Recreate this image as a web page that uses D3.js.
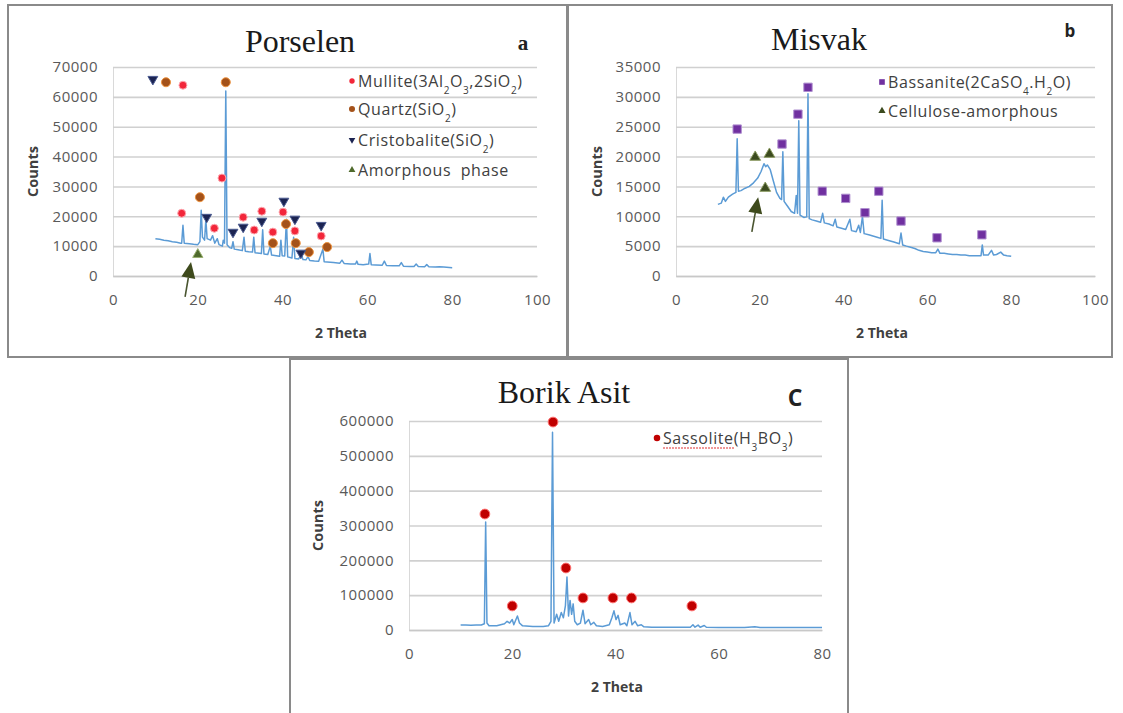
<!DOCTYPE html>
<html>
<head>
<meta charset="utf-8">
<script src="https://cdn.jsdelivr.net/npm/d3@7"></script>
<style>
  body { margin: 0; background: #fff; }
  text { font-family: "Open Sans", sans-serif; white-space: pre; }
</style>
</head>
<body>
<svg id="chart" width="1123" height="713"></svg>
<script>
// ---- panel a: Porselen ----
const porselenPattern = [[10,12500],[11,12300],[12,12000],[13,11800],[14,11500],[15,11300],[16,11000],[16.2,11000],[16.5,17000],[16.8,11000],[18,10800],[19,10600],[20,10500],[20.5,11500],[20.8,22000],[21.1,13000],[21.6,12000],[21.9,19000],[22.2,12500],[23,12000],[23.5,13500],[24,11000],[24.6,12500],[25,10500],[25.8,10000],[26.0,12000],[26.3,11000],[26.6,62000],[26.9,10500],[27.5,9500],[28,9300],[28.3,11500],[28.6,9000],[29.5,8800],[30.5,8500],[30.9,13000],[31.2,8300],[32,8100],[32.9,8000],[33.2,13000],[33.5,7800],[34.5,7600],[35,7500],[35.3,15500],[35.6,7400],[36.5,7200],[37.1,10000],[37.4,7000],[38.5,6800],[39.3,6600],[39.6,12000],[39.9,6800],[40.5,6700],[40.9,19000],[41.2,6400],[42.2,6000],[42.6,13000],[42.9,5900],[43.8,5700],[44.4,7500],[44.8,5500],[45.5,5400],[46,6500],[46.4,5200],[47.5,5000],[48.5,4900],[49.5,9000],[49.8,4800],[50.5,4700],[52,4500],[53.5,4300],[54,5300],[54.5,4200],[56,4000],[57.2,4000],[57.5,5000],[57.8,3900],[59,3800],[60.3,4000],[60.6,7500],[60.9,3800],[62,3700],[63.5,3600],[64,5000],[64.5,3500],[66,3400],[67.5,3400],[68,4500],[68.5,3300],[70,3200],[71,3200],[71.5,4000],[72,3200],[73.5,3100],[74,3800],[74.5,3100],[76,3000],[77,3100],[78,3000],[80,2800]];
const mullite = [[16.5,63900],[16.2,21000],[23.9,16000],[25.7,32800],[30.7,19700],[33.3,15400],[35.1,21700],[37.7,14700],[40.1,21400],[42.9,15100],[49.1,13400]];
const quartz = [[12.5,64900],[20.5,26400],[26.6,64900],[37.7,11000],[40.8,17400],[43.1,11000],[46.2,8000],[50.5,9700]];
const cristobalite = [[9.4,65900],[22.1,19700],[28.3,14700],[30.7,16400],[35.1,18400],[40.3,25100],[42.9,19100],[44.3,7700],[49.1,17000]];
const amorphous = [[20.0,7200]];
const arrowA = [[17.0,-7000],[18.4,4700]];

// ---- panel b: Misvak ----
const misvakPattern = [[10,12000],[10.8,12200],[11.3,13200],[11.8,12500],[12.5,13200],[13.5,13700],[14.3,14000],[14.6,23000],[14.9,14200],[15.5,14300],[16.5,14700],[17.5,15000],[18.5,15600],[19.5,16400],[20.3,17500],[21,18800],[21.4,18300],[21.8,18600],[22.5,17800],[23.2,16000],[24,14000],[24.8,13000],[25.2,12800],[25.5,20800],[25.8,12500],[26.5,11800],[27.5,10800],[28.3,10500],[28.7,13500],[29.0,10500],[29.3,26000],[29.6,10200],[30.5,9800],[31.2,9900],[31.5,30500],[31.8,9600],[32.5,9400],[33.5,9200],[34.5,9000],[35,10500],[35.4,8900],[36.5,8700],[37.5,8400],[38,9500],[38.4,8200],[39.5,8000],[40.5,7800],[41.5,9500],[41.9,7600],[43,7400],[43.6,8500],[44,7300],[44.5,10000],[44.9,7100],[46,6900],[47,6700],[48,6500],[48.9,6300],[49.2,12700],[49.5,6200],[50.5,6000],[52,5700],[53.3,5400],[53.7,7200],[54.1,5200],[55,5000],[56,4800],[57,4600],[58,4300],[59,4100],[60,4000],[61,3900],[62,3900],[62.5,4500],[63,3800],[64,3800],[65,3700],[66,3600],[67,3600],[68,3500],[69,3500],[70,3400],[71,3400],[72,3400],[72.8,3400],[73.1,5200],[73.4,3500],[74.5,3500],[75.3,4300],[75.8,3500],[76.5,3600],[77.5,4000],[78.2,3500],[79,3400],[80,3300]];
const bassanite = [[14.6,24600],[25.3,22100],[29.1,27100],[31.5,31600],[34.9,14200],[40.5,13000],[45.1,10600],[48.4,14200],[53.7,9200],[62.3,6400],[73.0,6900]];
const cellulose = [[18.9,19900],[22.3,20400],[21.3,14700]];
const arrowB = [[18.1,7400],[19.6,13200]];

// ---- panel c: Borik Asit ----
const borikPattern = [[10,14000],[11,14500],[12,13500],[13,14000],[14,14500],[14.6,18000],[14.85,310000],[15.1,20000],[15.5,12000],[17,12000],[18.5,18000],[19,25000],[19.5,20000],[20,30000],[20.3,15000],[21,40000],[21.4,20000],[22,12000],[24,10000],[26,10000],[27,12000],[27.5,25000],[27.8,568000],[28.1,20000],[28.6,45000],[29,25000],[29.5,50000],[29.9,35000],[30.3,70000],[30.6,152000],[30.9,40000],[31.2,85000],[31.5,45000],[31.8,75000],[32.1,25000],[32.6,15000],[33.2,20000],[33.7,57000],[34.1,18000],[34.8,30000],[35.2,15000],[35.8,22000],[36.3,12000],[37.5,10000],[38.8,15000],[39.3,35000],[39.7,55000],[40.1,30000],[40.5,42000],[40.9,15000],[41.8,20000],[42.2,12000],[42.8,50000],[43.2,15000],[43.8,25000],[44.3,12000],[45,15000],[45.5,9000],[47,8000],[50,8000],[53,8000],[54.5,8000],[55,15000],[55.4,8000],[56,14000],[56.4,8000],[57.2,13000],[57.6,8000],[60,7500],[62,7500],[65,7500],[67,9000],[68,7500],[72,7500],[75,7500],[80,7500]];
const sassolite = [[14.7,333000],[20.0,69000],[27.9,597000],[30.4,178000],[33.7,92000],[39.5,92000],[43.1,92000],[54.8,69000]];

const svg = d3.select("#chart");
const lineColor = "#5b9bd5";

// frames
svg.append("rect").attr("x", 8).attr("y", 5).attr("width", 559).attr("height", 352)
  .attr("fill", "none").attr("stroke", "#8a8a8a").attr("stroke-width", 2);
svg.append("rect").attr("x", 568).attr("y", 5).attr("width", 544).attr("height", 352)
  .attr("fill", "none").attr("stroke", "#8a8a8a").attr("stroke-width", 2);
svg.append("rect").attr("x", 290).attr("y", 359).attr("width", 558).attr("height", 370)
  .attr("fill", "none").attr("stroke", "#8a8a8a").attr("stroke-width", 2);

const markerStyles = {
  mullite: { type: d3.symbolCircle, size: 50, fill: "#f2263a", stroke: "#ffaab2", rot: 0 },
  quartz: { type: d3.symbolCircle, size: 64, fill: "#a4521a", stroke: "#ee9440", rot: 0 },
  cristobalite: { type: d3.symbolTriangle, size: 42, fill: "#1c2452", stroke: "#4a5a90", rot: 180 },
  amorphous: { type: d3.symbolTriangle, size: 45, fill: "#4f6a2c", stroke: "#9ab070", rot: 0 },
  bassanite: { type: d3.symbolSquare, size: 70, fill: "#7030a0", stroke: "#b090d0", rot: 0 },
  cellulose: { type: d3.symbolTriangle, size: 50, fill: "#3b4a1e", stroke: "#8a9a60", rot: 0 },
  sassolite: { type: d3.symbolCircle, size: 75, fill: "#c00000", stroke: "#ff7070", rot: 0 }
};

function drawPanel(p) {
  const x = d3.scaleLinear().domain(p.xDomain).range([p.left, p.right]);
  const y = d3.scaleLinear().domain(p.yDomain).range([p.bottom, p.top]);
  const g = svg.append("g");

  // grid
  g.append("g")
    .attr("transform", "translate(" + p.left + ",0)")
    .call(d3.axisLeft(y).tickValues(p.yTicks).tickSize(-(p.right - p.left)).tickFormat(d => d).tickPadding(15))
    .call(a => a.select(".domain").attr("stroke", "#d9d9d9").attr("stroke-width", 1))
    .call(a => a.selectAll(".tick line").attr("stroke", "#d0d0d0").attr("stroke-width", 1.6))
    .call(a => a.selectAll(".tick text").attr("fill", "#595959").style("font-size", "15px")
      .style("letter-spacing", "0.5px").attr("font-family", "Open Sans"));

  g.append("g")
    .attr("transform", "translate(0," + p.bottom + ")")
    .call(d3.axisBottom(x).tickValues(p.xTicks).tickSize(0).tickPadding(18).tickFormat(d => d))
    .call(a => a.select(".domain").attr("stroke", "#c8c8c8").attr("stroke-width", 1.6))
    .call(a => a.selectAll(".tick text").attr("fill", "#595959").style("font-size", "15px")
      .style("letter-spacing", "0.5px").attr("font-family", "Open Sans"));

  // axis titles
  g.append("text")
    .attr("transform", "translate(" + p.countsX + "," + ((p.top + p.bottom) / 2) + ") rotate(-90)")
    .attr("text-anchor", "middle").attr("dy", "0.35em")
    .attr("font-weight", "bold").style("font-size", "14.5px").attr("fill", "#404040")
    .text("Counts");
  g.append("text")
    .attr("x", p.thetaX).attr("y", p.bottom + 62)
    .attr("text-anchor", "middle")
    .attr("font-weight", "bold").style("font-size", "14px").attr("fill", "#404040")
    .text("2 Theta");

  // title + letter
  g.append("text")
    .attr("x", p.titleX).attr("y", p.titleY)
    .attr("text-anchor", "middle")
    .style("font-family", "Liberation Serif, serif").style("font-size", "32px").attr("fill", "#1a1a1a")
    .text(p.title);
  g.append("text")
    .attr("x", p.letterX).attr("y", p.letterY)
    .attr("text-anchor", "middle")
    .style("font-family", p.letterFont).style("font-size", p.letterSize).attr("font-weight", "bold").attr("fill", "#222")
    .text(p.letter);

  // pattern
  const line = d3.line().x(d => x(d[0])).y(d => y(d[1]));
  g.append("path").datum(p.pattern)
    .attr("fill", "none").attr("stroke", lineColor).attr("stroke-width", 1.5)
    .attr("stroke-linejoin", "round")
    .attr("d", line);

  // arrow
  if (p.arrow) {
    const a0 = p.arrow[0], a1 = p.arrow[1];
    const x0 = x(a0[0]), y0 = y(a0[1]), x1 = x(a1[0]), y1 = y(a1[1]);
    const ang = Math.atan2(y1 - y0, x1 - x0);
    const hl = 16, hw = 7;
    const bx = x1 - hl * Math.cos(ang), by = y1 - hl * Math.sin(ang);
    g.append("line").attr("x1", x0).attr("y1", y0).attr("x2", bx).attr("y2", by)
      .attr("stroke", "#4a5530").attr("stroke-width", 1.6);
    g.append("path")
      .attr("d", "M" + x1 + "," + y1 +
        "L" + (bx + hw * Math.sin(ang)) + "," + (by - hw * Math.cos(ang)) +
        "L" + (bx - hw * Math.sin(ang)) + "," + (by + hw * Math.cos(ang)) + "Z")
      .attr("fill", "#3e4a1c");
  }

  // markers
  p.series.forEach(s => {
    const st = markerStyles[s.key];
    g.append("g").selectAll("path")
      .data(s.data).enter().append("path")
      .attr("d", d3.symbol().type(st.type).size(st.size))
      .attr("transform", d => "translate(" + x(d[0]) + "," + y(d[1]) + ") rotate(" + st.rot + ")")
      .attr("fill", st.fill).attr("stroke", st.stroke).attr("stroke-width", 1);
  });

  // legend
  const lg = g.append("g");
  p.legend.forEach((l, i) => {
    const st = markerStyles[l.key];
    const ly = p.legendY[i];
    lg.append("path")
      .attr("d", d3.symbol().type(st.type).size(st.size * 0.45))
      .attr("transform", "translate(" + p.legendX + "," + ly + ") rotate(" + st.rot + ")")
      .attr("fill", st.fill);
    const t = lg.append("text").attr("x", p.legendX + 6).attr("y", ly).attr("dy", "0.35em")
      .style("font-size", "16px").style("letter-spacing", "0.6px").attr("fill", "#404040");
    l.parts.forEach(part => {
      if (typeof part === "string") {
        t.append("tspan").text(part);
      } else {
        t.append("tspan").attr("baseline-shift", "sub").style("font-size", "10px").text(part.sub);
      }
    });
    if (l.squiggle) {
      const bb = t.node().getBBox();
      lg.append("line")
        .attr("x1", bb.x).attr("x2", bb.x + l.squiggle).attr("y1", ly + 10).attr("y2", ly + 10)
        .attr("stroke", "#e03030").attr("stroke-width", 1.2).attr("stroke-dasharray", "2,1");
    }
  });
}

drawPanel({
  title: "Porselen", titleX: 300, titleY: 52,
  letter: "a", letterX: 523, letterY: 50, letterFont: "Liberation Serif, serif", letterSize: "21px",
  left: 113, right: 537, top: 67, bottom: 276,
  xDomain: [0, 100], yDomain: [0, 70000],
  xTicks: [0, 20, 40, 60, 80, 100],
  yTicks: [0, 10000, 20000, 30000, 40000, 50000, 60000, 70000],
  countsX: 33, thetaX: 341,
  pattern: porselenPattern,
  arrow: arrowA,
  series: [
    { key: "amorphous", data: amorphous },
    { key: "quartz", data: quartz },
    { key: "mullite", data: mullite },
    { key: "cristobalite", data: cristobalite }
  ],
  legendX: 352, legendY: [81, 109, 140, 170],
  legend: [
    { key: "mullite", parts: ["Mullite(3Al", { sub: "2" }, "O", { sub: "3" }, ",2SiO", { sub: "2" }, ")"] },
    { key: "quartz", parts: ["Quartz(SiO", { sub: "2" }, ")"] },
    { key: "cristobalite", parts: ["Cristobalite(SiO", { sub: "2" }, ")"] },
    { key: "amorphous", parts: ["Amorphous  phase"] }
  ]
});

drawPanel({
  title: "Misvak", titleX: 819, titleY: 50,
  letter: "b", letterX: 1070, letterY: 37, letterFont: "Open Sans, sans-serif", letterSize: "17px",
  left: 676, right: 1095, top: 67, bottom: 276,
  xDomain: [0, 100], yDomain: [0, 35000],
  xTicks: [0, 20, 40, 60, 80, 100],
  yTicks: [0, 5000, 10000, 15000, 20000, 25000, 30000, 35000],
  countsX: 597, thetaX: 882,
  pattern: misvakPattern,
  arrow: arrowB,
  series: [
    { key: "cellulose", data: cellulose },
    { key: "bassanite", data: bassanite }
  ],
  legendX: 882, legendY: [82, 111],
  legend: [
    { key: "bassanite", parts: ["Bassanite(2CaSO", { sub: "4" }, ".H", { sub: "2" }, "O)"] },
    { key: "cellulose", parts: ["Cellulose-amorphous"] }
  ]
});

drawPanel({
  title: "Borik Asit", titleX: 564, titleY: 403,
  letter: "C", letterX: 795, letterY: 406, letterFont: "Open Sans, sans-serif", letterSize: "23px",
  left: 409, right: 822, top: 421, bottom: 630,
  xDomain: [0, 80], yDomain: [0, 600000],
  xTicks: [0, 20, 40, 60, 80],
  yTicks: [0, 100000, 200000, 300000, 400000, 500000, 600000],
  countsX: 318, thetaX: 617,
  pattern: borikPattern,
  arrow: null,
  series: [
    { key: "sassolite", data: sassolite }
  ],
  legendX: 657, legendY: [438],
  legend: [
    { key: "sassolite", parts: ["Sassolite(H", { sub: "3" }, "BO", { sub: "3" }, ")"], squiggle: 72 }
  ]
});
</script>
</body>
</html>
